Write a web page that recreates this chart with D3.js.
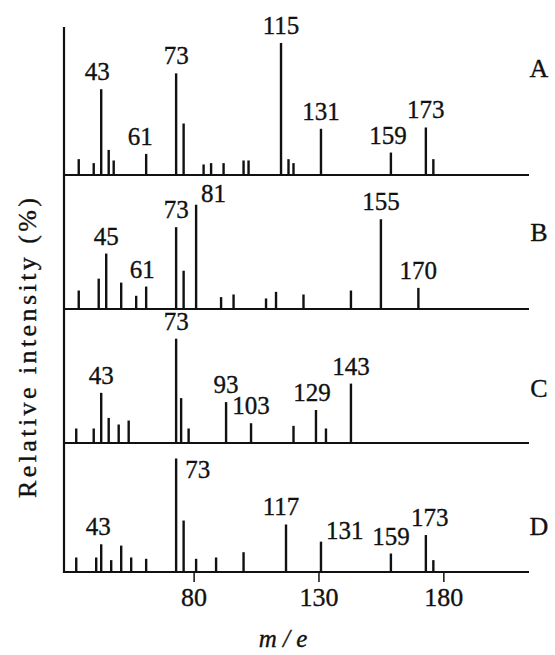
<!DOCTYPE html>
<html><head><meta charset="utf-8">
<script src="https://cdn.jsdelivr.net/npm/d3@7/dist/d3.min.js"></script>
<style>body{margin:0;background:#fff}svg{display:block}</style>
</head><body><svg id="c" width="555" height="655"></svg>
<script>
// ---- data ----
const panels = ["A", "B", "C", "D"];

const mzA  = [34, 40, 43, 46, 48, 61, 73, 76, 84, 87, 92, 100, 102, 115, 118, 120, 131, 159, 173, 176];
const intA = [12,  9, 65, 19, 11, 16, 77, 39,  8,  9,  9,  11,  11, 100,  12,   9,  35,  17,  36,  12];
const labA = [43, 61, 73, 115, 131, 159, 173];

const mzB  = [34, 42, 45, 51, 57, 61, 73, 76, 81, 91, 96, 109, 113, 124, 143, 155, 170];
const intB = [14, 23, 42, 20, 10, 17, 62, 29, 79,  9, 11,   8,  13,  11,  14,  68,  16];
const labB = [45, 61, 73, 81, 155, 170];

const mzC  = [33, 40, 43, 46, 50, 54, 73, 75, 78, 93, 103, 120, 129, 133, 143];
const intC = [11, 11, 38, 19, 14, 17, 79, 34, 11, 31,  15,  13,  25,  11,  45];
const labC = [43, 73, 93, 103, 129, 143];

const mzD  = [33, 41, 43, 47, 51, 55, 61, 73, 76, 81, 89, 100, 117, 131, 159, 173, 176];
const intD = [11, 11, 21,  9, 20, 11, 10, 86, 39, 10, 11,  15,  36,  23,  14,  28,   9];
const labD = [43, 73, 117, 131, 159, 173];

const xTicks = [80, 130, 180];
const xTitle = "m / e";
const yTitle = "Relative intensity (%)";

// ---- layout ----
const baselines = [175, 309, 443, 572];
const axisTop = 27;
const letterY = [77, 241, 397, 535];
const rightLabels = {"B81": [5, -3], "D73": [9, 20], "D131": [5, -3]};
const labelDx = {"A43": -4, "A61": -6, "A159": -3, "B61": -4, "C129": -4, "D117": -5, "D173": 4, "D43": -3};
const FONT = '"Liberation Serif"';

const series = [
  {mz: mzA, it: intA, lab: labA},
  {mz: mzB, it: intB, lab: labB},
  {mz: mzC, it: intC, lab: labC},
  {mz: mzD, it: intD, lab: labD}
];

const svg = d3.select("#c");
const x = d3.scaleLinear().domain([28.1, 214.3]).range([64, 529]);
const h = d3.scaleLinear().domain([0, 100]).range([0, 132]);
const ink = "#111";

function txt(sel, size) {
  return sel.style("font-family", FONT).style("font-size", size + "px")
    .attr("fill", ink).attr("stroke", ink).attr("stroke-width", 0.35);
}

// left vertical axis
svg.append("line")
  .attr("x1", x.range()[0]).attr("x2", x.range()[0])
  .attr("y1", axisTop).attr("y2", baselines[3] + 1)
  .attr("stroke", ink).attr("stroke-width", 2.2);

series.forEach((s, i) => {
  const b = baselines[i];
  const g = svg.append("g");
  g.append("line")
    .attr("x1", x.range()[0]).attr("x2", x.range()[1])
    .attr("y1", b).attr("y2", b)
    .attr("stroke", ink).attr("stroke-width", 2.2);
  const pts = s.mz.map((m, k) => ({m, v: s.it[k]}));
  g.selectAll("line.pk").data(pts).join("line")
    .attr("class", "pk")
    .attr("x1", d => x(d.m)).attr("x2", d => x(d.m))
    .attr("y1", b).attr("y2", d => b - h(d.v))
    .attr("stroke", ink).attr("stroke-width", 2.4);
  const labs = pts.filter(d => s.lab.includes(d.m));
  txt(g.selectAll("text.lb").data(labs).join("text").attr("class", "lb"), 25)
    .each(function(d) {
      const key = panels[i] + d.m;
      const t = d3.select(this);
      if (rightLabels[key]) {
        t.attr("text-anchor", "start")
         .attr("x", x(d.m) + rightLabels[key][0])
         .attr("y", b - h(d.v) + rightLabels[key][1]);
      } else {
        t.attr("text-anchor", "middle")
         .attr("x", x(d.m) + (labelDx[key] || 0))
         .attr("y", b - h(d.v) - 9);
      }
    })
    .text(d => d.m);
  txt(g.append("text"), 26)
    .attr("x", 539).attr("y", letterY[i])
    .attr("text-anchor", "middle")
    .text(panels[i]);
});

// bottom axis ticks
const xAxis = d3.axisBottom(x).tickValues(xTicks).tickSize(10).tickSizeOuter(0).tickFormat(d3.format("d"));
const ax = svg.append("g").attr("transform", `translate(0,${baselines[3]})`).call(xAxis);
ax.select(".domain").remove();
ax.selectAll(".tick line").attr("stroke", ink).attr("stroke-width", 1.5);
txt(ax.selectAll(".tick text"), 26)
  .attr("y", 34).attr("dy", 0);

// titles
txt(svg.append("text"), 25)
  .attr("x", 283).attr("y", 647)
  .attr("text-anchor", "middle")
  .style("font-style", "italic")
  .text(xTitle);

txt(svg.append("text"), 26)
  .attr("transform", "translate(36,348) rotate(-90)")
  .attr("text-anchor", "middle")
  .attr("textLength", 300).attr("lengthAdjust", "spacing")
  .text(yTitle);
</script>
</body></html>
